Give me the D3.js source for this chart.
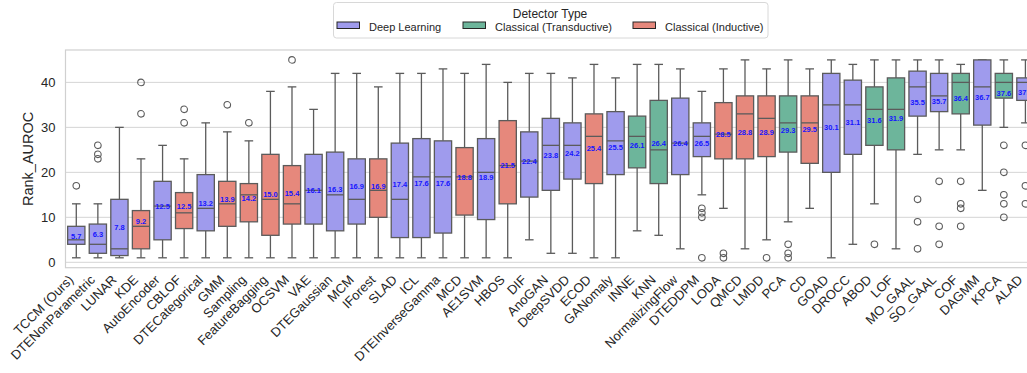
<!DOCTYPE html>
<html>
<head>
<meta charset="utf-8">
<script src="https://cdn.jsdelivr.net/npm/d3@7/dist/d3.min.js"></script>
<style>
	html, body { margin: 0; padding: 0; background: #fff; }
	svg { display: block; font-family: "Liberation Sans", Arial, sans-serif; }
</style>
</head>
<body>
<div id="chart"></div>
<script>
// detectors in plot order (sorted by mean rank)
const detectors = ["TCCM (Ours)", "DTENonParametric", "LUNAR", "KDE", "AutoEncoder", "CBLOF", "DTECategorical", "GMM", "Sampling",
	"FeatureBagging", "OCSVM", "VAE", "DTEGaussian", "MCM", "IForest", "SLAD", "ICL", "DTEInverseGamma", "MCD", "AE1SVM", "HBOS",
	"DIF", "AnoGAN", "DeepSVDD", "ECOD", "GANomaly", "INNE", "KNN", "NormalizingFlow", "DTEDDPM", "LODA", "QMCD", "LMDD", "PCA",
	"CD", "GOAD", "DROCC", "ABOD", "LOF", "MO_GAAL", "SO_GAAL", "COF", "DAGMM", "KPCA", "ALAD"];

// D = Deep Learning, T = Classical (Transductive), I = Classical (Inductive)
const detectorType = ["D", "D", "D", "I", "D", "I", "D", "I", "I",
	"I", "I", "D", "D", "D", "I", "D", "D", "D", "I", "D", "I",
	"D", "D", "D", "I", "D", "T", "T", "D", "D", "I", "I", "I", "T",
	"I", "D", "D", "T", "T", "D", "D", "T", "D", "T", "D"];

const whiskerLow = [1, 1, 1, 1, 1, 1, 1, 1, 1,
	1, 1, 1, 1, 1, 1, 1, 1, 1, 1, 1, 1,
	5, 2, 2, 1, 1, 7, 6, 3, 15, 12, 3, 5, 9,
	12, 1, 4, 13, 3, 24, 25, 25, 16, 30, 31];
const q1 = [4, 2, 1.5, 3, 5, 7.5, 7, 8, 9,
	6, 8.5, 8.5, 7, 8.5, 10, 5.5, 5.5, 6.5, 10.5, 9.5, 13,
	14.5, 16, 18.5, 17.5, 19.5, 21, 17.5, 19.5, 23.5, 23, 23, 23.5, 24.5,
	22, 20, 24, 26, 25, 32.5, 33.5, 33, 30.5, 36.5, 36];
const median = [5, 4, 3, 8, 12.5, 11, 12, 13, 15,
	14, 13, 16, 15, 14, 16, 14, 19, 19, 19, 20, 21.5,
	22.5, 26, 26, 28, 27, 28, 25, 26.5, 28, 28.5, 33, 32, 31,
	31, 35, 35, 34, 34, 39, 37, 40, 39, 40, 40];
const q3 = [8, 8.5, 14, 11.5, 18, 15.5, 19.5, 18, 17.5,
	24, 21.5, 24, 24.5, 23, 23, 26.5, 27.5, 27, 25.5, 27.5, 31.5,
	29, 32, 31, 33, 33.5, 32.5, 36, 36.5, 31, 35.5, 37, 37, 37,
	37, 42, 40.5, 39, 41, 42.5, 42, 42, 45, 42, 41];
const whiskerHigh = [13, 13, 30, 23, 26, 23, 31, 29, 27,
	38, 39, 34, 42, 42, 39, 42, 42, 43, 42, 44, 40,
	42, 42, 41, 44, 41, 44, 44, 43, 38, 43, 45, 43, 45,
	43, 45, 44, 45, 45, 45, 45, 44, 45, 45, 45];
const meanRank = [5.7, 6.3, 7.8, 9.2, 12.5, 12.5, 13.2, 13.9, 14.2,
	15.0, 15.4, 16.1, 16.3, 16.9, 16.9, 17.4, 17.6, 17.6, 18.8, 18.9, 21.5,
	22.4, 23.8, 24.2, 25.4, 25.5, 26.1, 26.4, 26.4, 26.5, 28.5, 28.8, 28.9, 29.3,
	29.5, 30.1, 31.1, 31.6, 31.9, 35.5, 35.7, 36.4, 36.7, 37.6, 37.8];
const outliers = [[17], [23, 24, 26], [], [33, 40], [], [31, 34], [], [35], [31],
	[], [45], [], [], [], [], [], [], [], [], [], [],
	[], [], [], [], [], [], [], [], [1, 10, 11, 12], [1, 2], [], [1], [1, 2, 4],
	[], [], [], [4], [], [3, 9, 14], [4, 8, 18], [8, 12, 13, 18], [], [10, 13, 15, 20, 26], [13, 17, 26]];

const typeLabels = { D: "Deep Learning", T: "Classical (Transductive)", I: "Classical (Inductive)" };
const typeColors = { D: "#9f9bed", T: "#6db59b", I: "#e6887c" };

const width = 1027, height = 373;
const plot = { left: 65.5, right: 1036.2, top: 50, bottom: 267.7 };
const lineColor = "#5b5b5b";

const svg = d3.select("#chart").append("svg")
	.attr("width", width)
	.attr("height", height);

const x = d3.scaleBand()
	.domain(detectors)
	.range([plot.left, plot.right])
	.padding(0);

const y = d3.scaleLinear()
	.domain([-1.2, 47.2])
	.range([plot.bottom, plot.top]);

const boxW = x.bandwidth() * 0.8;
const capW = boxW * 0.5;

// grid
svg.append("g")
	.selectAll("line")
	.data(y.ticks(5).filter((t) => t >= 0))
	.enter()
	.append("line")
	.attr("x1", plot.left)
	.attr("x2", plot.right)
	.attr("y1", (d) => y(d))
	.attr("y2", (d) => y(d))
	.style("stroke", "#d5d5d5")
	.style("stroke-width", 1);

// frame
svg.append("rect")
	.attr("x", plot.left)
	.attr("y", plot.top)
	.attr("width", plot.right - plot.left)
	.attr("height", plot.bottom - plot.top)
	.style("fill", "none")
	.style("stroke", "#d0d0d0")
	.style("stroke-width", 1.2);

// y axis (seaborn whitegrid: no tick marks)
const yAxis = svg.append("g")
	.attr("transform", `translate(${plot.left},0)`)
	.call(d3.axisLeft(y).tickValues([0, 10, 20, 30, 40]).tickSize(0).tickPadding(10));
yAxis.select(".domain").remove();
yAxis.selectAll("text").style("font-size", "13px").style("fill", "#262626")
	.style("font-family", "'Liberation Sans', Arial, sans-serif");

svg.append("text")
	.attr("transform", `translate(33,${(plot.top + plot.bottom) / 2}) rotate(-90)`)
	.attr("text-anchor", "middle")
	.style("font-size", "14.5px")
	.style("fill", "#262626")
	.text("Rank_AUROC");

// x labels, rotated 45deg, right aligned on the tick
const xAxis = svg.append("g")
	.attr("transform", `translate(0,${plot.bottom})`)
	.call(d3.axisBottom(x).tickSize(0).tickPadding(0));
xAxis.select(".domain").remove();
xAxis.selectAll("text")
	.attr("y", 0)
	.attr("dy", 0)
	.attr("text-anchor", "end")
	.attr("transform", "translate(-2,13) rotate(-45)")
	.style("font-size", "13px")
	.style("fill", "#262626")
	.style("font-family", "'Liberation Sans', Arial, sans-serif");

// boxes
const rows = detectors.map((name, i) => ({
	name,
	type: detectorType[i],
	lo: whiskerLow[i],
	q1: q1[i],
	med: median[i],
	q3: q3[i],
	hi: whiskerHigh[i],
	mean: meanRank[i],
	out: outliers[i],
}));

const g = svg.append("g")
	.selectAll("g")
	.data(rows)
	.enter()
	.append("g")
	.attr("transform", (d) => `translate(${x(d.name) + x.bandwidth() / 2},0)`);

g.append("line")
	.attr("y1", (d) => y(d.lo))
	.attr("y2", (d) => y(d.q1))
	.style("stroke", lineColor)
	.style("stroke-width", 1.3);
g.append("line")
	.attr("y1", (d) => y(d.q3))
	.attr("y2", (d) => y(d.hi))
	.style("stroke", lineColor)
	.style("stroke-width", 1.3);
g.append("line")
	.attr("x1", -capW / 2)
	.attr("x2", capW / 2)
	.attr("y1", (d) => y(d.lo))
	.attr("y2", (d) => y(d.lo))
	.style("stroke", lineColor)
	.style("stroke-width", 1.3);
g.append("line")
	.attr("x1", -capW / 2)
	.attr("x2", capW / 2)
	.attr("y1", (d) => y(d.hi))
	.attr("y2", (d) => y(d.hi))
	.style("stroke", lineColor)
	.style("stroke-width", 1.3);

g.append("rect")
	.attr("x", -boxW / 2)
	.attr("width", boxW)
	.attr("y", (d) => y(d.q3))
	.attr("height", (d) => y(d.q1) - y(d.q3))
	.style("fill", (d) => typeColors[d.type])
	.style("stroke", lineColor)
	.style("stroke-width", 1.3);

g.append("line")
	.attr("x1", -boxW / 2)
	.attr("x2", boxW / 2)
	.attr("y1", (d) => y(d.med))
	.attr("y2", (d) => y(d.med))
	.style("stroke", lineColor)
	.style("stroke-width", 1.3);

g.selectAll("circle")
	.data((d) => d.out)
	.enter()
	.append("circle")
	.attr("cy", (v) => y(v))
	.attr("r", 3.3)
	.style("fill", "none")
	.style("stroke", lineColor)
	.style("stroke-width", 1.1);

// mean labels
g.append("text")
	.attr("y", (d) => y(d.mean))
	.attr("dy", "0.35em")
	.attr("text-anchor", "middle")
	.style("font-size", "7.5px")
	.style("font-weight", "bold")
	.style("fill", "#1515ff")
	.text((d) => d.mean.toFixed(1));

// legend
const legend = svg.append("g");
legend.append("rect")
	.attr("x", 333.5)
	.attr("y", 2.5)
	.attr("width", 434.5)
	.attr("height", 35.5)
	.attr("rx", 3)
	.style("fill", "#fff")
	.style("stroke", "#d8d8d8");
legend.append("text")
	.attr("x", 550)
	.attr("y", 18)
	.attr("text-anchor", "middle")
	.style("font-size", "12px")
	.style("fill", "#262626")
	.text("Detector Type");

const legendItems = [
	{ key: "D", px: 337, tx: 369 },
	{ key: "T", px: 463, tx: 495 },
	{ key: "I", px: 633, tx: 665 },
];
legendItems.forEach((it) => {
	legend.append("rect")
		.attr("x", it.px)
		.attr("y", 22)
		.attr("width", 22.5)
		.attr("height", 6.5)
		.style("fill", typeColors[it.key])
		.style("stroke", "#262626")
		.style("stroke-width", 1);
	legend.append("text")
		.attr("x", it.tx)
		.attr("y", 31)
		.style("font-size", "11px")
		.style("fill", "#262626")
		.text(typeLabels[it.key]);
});
</script>
</body>
</html>
